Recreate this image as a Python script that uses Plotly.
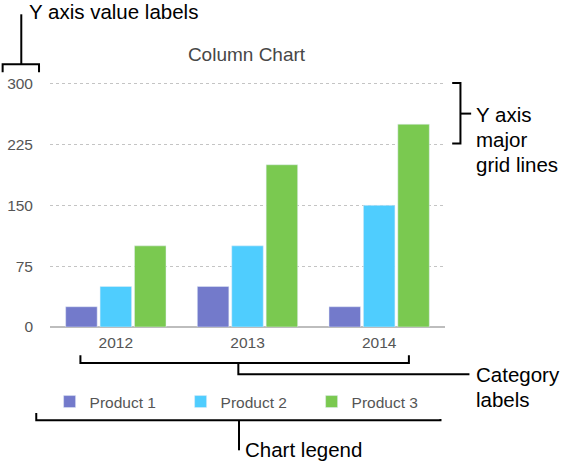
import plotly.graph_objects as go

years = ["2012", "2013", "2014"]
products = ["Product 1", "Product 2", "Product 3"]
product_1 = [25, 50, 25]
product_2 = [50, 100, 150]
product_3 = [100, 200, 250]
y_ticks = [0, 75, 150, 225, 300]

COLORS = ["#737ACB", "#4FCDFE", "#7AC950"]
FONT = "Liberation Sans, Helvetica, Arial, sans-serif"
GREY = "#555555"

W, H = 568, 468
# plot area in pixels, used to place the callouts in paper coords
# (y range tops out at 302 so plotly keeps the 300 grid line)
PL, PR, PT, PB = 49.5, 445.5, 81.7, 326.7


def px(x):
    return (x - PL) / (PR - PL)


def py(y):
    return (PB - y) / (PB - PT)


def path(points):
    return "M" + " L".join(f"{px(x):.4f},{py(y):.4f}" for x, y in points)


fig = go.Figure()
for name, vals, col in zip(products, [product_1, product_2, product_3], COLORS):
    fig.add_trace(go.Bar(x=years, y=vals, name=name, marker_color=col))

# callout brackets
brackets = [
    [(2, 72), (2, 64), (38.5, 64), (38.5, 72)],
    [(20.7, 64), (20.7, 14)],
    [(452.7, 82.7), (461, 82.7), (461, 143.3), (452.7, 143.3)],
    [(461, 113.3), (471.7, 113.3)],
    [(80, 355), (80, 362.7), (409.3, 362.7), (409.3, 355)],
    [(238.3, 362.7), (238.3, 374), (470, 374)],
    [(35.7, 412.7), (35.7, 420), (441, 420), (441, 412.7)],
    [(239, 420), (239, 450)],
]
shapes = [dict(type="path", xref="paper", yref="paper", path=path(b),
               line=dict(color="black", width=2)) for b in brackets]

callouts = [
    ("Y axis value labels", 26.5, 11),
    ("Y axis", 475, 114.4),
    ("major", 475, 139.4),
    ("grid lines", 475, 164.4),
    ("Category", 475, 374.4),
    ("labels", 475, 399.4),
    ("Chart legend", 243, 449.4),
]
annotations = [dict(text=t, x=px(x), y=py(y), xref="paper", yref="paper",
                    xanchor="left", yanchor="middle", showarrow=False,
                    font=dict(family=FONT, size=20.5, color="black"))
               for t, x, y in callouts]

fig.update_layout(
    width=W, height=H,
    paper_bgcolor="white", plot_bgcolor="white",
    margin=dict(l=PL, r=W - PR, t=PT, b=H - PB, autoexpand=False),
    title=dict(text="Column Chart", x=px(246.5), xref="paper", xanchor="center",
               y=1 - 54.1 / H, yanchor="middle",
               font=dict(family=FONT, size=19, color="#474747")),
    barmode="group", bargap=0.216, bargroupgap=0.084,
    xaxis=dict(showgrid=False, zeroline=False, showline=False,
               tickfont=dict(family=FONT, size=15.5, color=GREY),
               ticklabelstandoff=4),
    yaxis=dict(range=[0, 302], tickvals=y_ticks, showgrid=True,
               gridcolor="#c4c4c4", griddash="dot", gridwidth=1,
               zeroline=True, zerolinecolor="#bdbdbd", zerolinewidth=1.5,
               tickfont=dict(family=FONT, size=15.5, color=GREY),
               ticklabelstandoff=16),
    legend=dict(orientation="h", x=-0.001, xanchor="left", y=py(401.7),
                yanchor="middle", entrywidth=86, entrywidthmode="pixels",
                font=dict(family=FONT, size=15.5, color=GREY)),
    shapes=shapes,
    annotations=annotations,
)

# the page body has an 8px default margin; drop it so the figure sits at 0,0
fig.write_html("out.html", config={"displayModeBar": False},
               post_script="document.body.style.margin='0';")
